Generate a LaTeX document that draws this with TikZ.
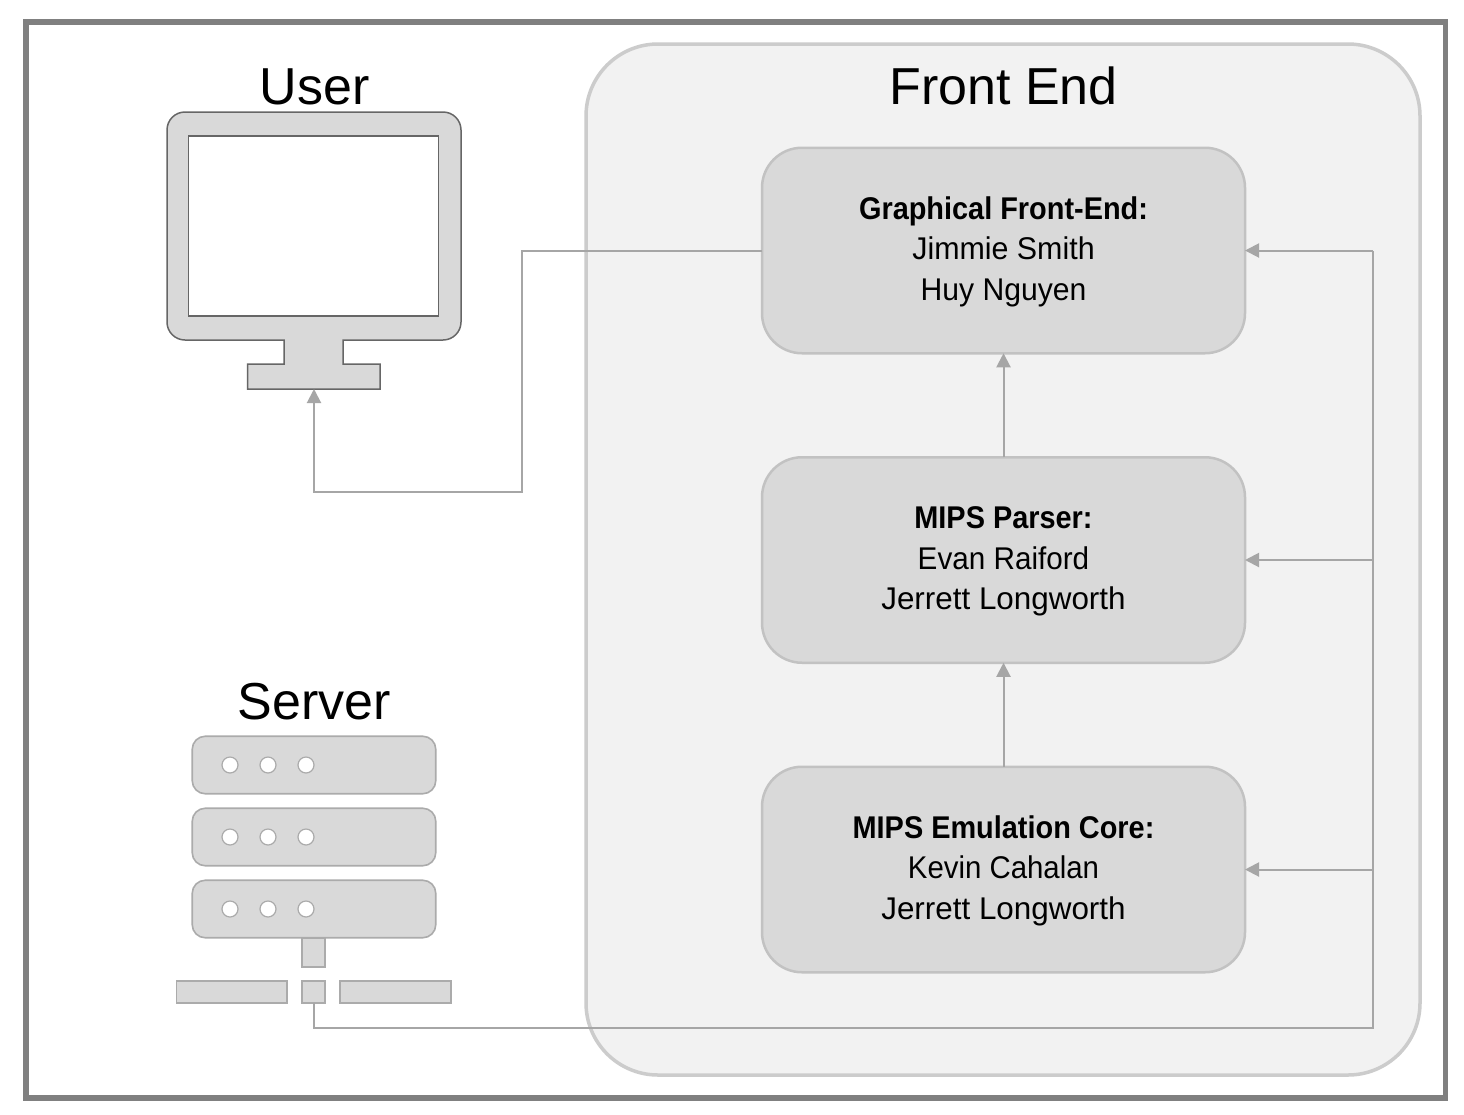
\documentclass[tikz,border=0pt]{standalone}
\usepackage{fontspec}
\setmainfont{Liberation Sans}
\usetikzlibrary{arrows.meta,calc}
\definecolor{boxfill}{HTML}{D9D9D9}
\definecolor{panelfill}{HTML}{F2F2F2}
\definecolor{panelline}{HTML}{CCCCCC}
\definecolor{boxline}{HTML}{C2C2C2}
\definecolor{conn}{HTML}{A6A6A6}
\definecolor{frameline}{HTML}{808080}
\definecolor{monline}{HTML}{666666}
\definecolor{srvline}{HTML}{ABABAB}
\tikzset{
  box/.style={draw=#1,fill=boxfill,line width=1.6pt,inner sep=0pt,outer sep=0pt},
  teambox/.style={box=boxline,line width=2.5pt,rounded corners=40pt,minimum width=483pt,minimum height=205.5pt,align=center,font=\fontsize{31.4}{40.5}\selectfont,text=black},
  srvbar/.style={box=srvline,rounded corners=13pt,minimum width=243.5pt,minimum height=57.5pt},
  srvrect/.style={box=srvline},
  led/.style={circle,draw=srvline,fill=white,line width=1.2pt,minimum size=16pt,inner sep=0pt},
  title/.style={font=\fontsize{52}{60}\selectfont,text=black,inner sep=0pt},
  conn/.style={draw=conn,line width=2pt},
  arrow/.style={conn,-{Triangle[length=14pt,width=14pt]}}
}
\newcommand{\sline}[2]{{\addfontfeature{FakeStretch=#1}#2}}
\newcommand{\teamtext}[5]{\rule{0pt}{25pt}{\bfseries\sline{.92}{#1}}\\\sline{#2}{#3}\\\sline{#4}{#5}}
\begin{document}
\begin{tikzpicture}[x=1pt,y=-1pt]
\useasboundingbox (0,0) rectangle (1464,1114);
\fill[white] (0,0) rectangle (1464,1114);
\node[draw=frameline,line width=5.6pt,minimum width=1419.7pt,minimum height=1076pt,inner sep=0pt,outer sep=0pt] (frame) at (735.8,560) {};
\node[draw=panelline,fill=panelfill,line width=3.5pt,rounded corners=72pt,minimum width=834pt,minimum height=1031pt,inner sep=0pt,outer sep=0pt] (panel) at (1003,559.5) {};
\node[title] (fronttitle) at (1003.7,86) {Front End};
\node[title] (usertitle) at (314.5,87) {User};
\node[title] (servertitle) at (314.3,702) {Server};

\node[teambox] (gui) at (1003.5,250.5) {\teamtext{Graphical Front-End:}{.968}{Jimmie Smith}{.959}{Huy Nguyen}};
\node[teambox] (parser) at (1003.5,560) {\teamtext{MIPS Parser:}{.945}{Evan Raiford}{1}{Jerrett Longworth}};
\node[teambox] (core) at (1003.5,869.5) {\teamtext{MIPS Emulation Core:}{.936}{Kevin Cahalan}{1}{Jerrett Longworth}};

% monitor
\draw[draw=monline,fill=boxfill,line width=1.5pt]
  (185,112) -- (443,112) arc[start angle=-90,end angle=0,radius=18] -- (461,322) arc[start angle=0,end angle=90,radius=18]
  -- (343,340) -- (343,364) -- (380,364) -- (380,389) -- (247.5,389) -- (247.5,364) -- (284,364) -- (284,340)
  -- (185,340) arc[start angle=90,end angle=180,radius=18] -- (167,130) arc[start angle=180,end angle=270,radius=18] -- cycle;
\node[draw=monline,fill=white,line width=1.5pt,minimum width=250pt,minimum height=180pt,inner sep=0pt] (screen) at (313.5,226) {};
\coordinate (monbase) at (314,389);

% server
\node[srvbar] (s1) at (314,765) {};
\node[srvbar] (s2) at (314,837) {};
\node[srvbar] (s3) at (314,909) {};
\foreach \s/\y in {1/765,2/837,3/909}{
  \node[led] (l\s a) at (230,\y) {};
  \node[led] (l\s b) at (268,\y) {};
  \node[led] (l\s c) at (306,\y) {};
}
\node[srvrect,minimum width=23pt,minimum height=29pt] (stem) at (313.5,952.5) {};
\node[srvrect,minimum width=110.5pt,minimum height=21.5pt] (barl) at (231.7,992) {};
\node[srvrect,minimum width=23pt,minimum height=21.5pt] (hub) at (313.5,992) {};
\node[srvrect,minimum width=110.5pt,minimum height=21.5pt] (barr) at (395.5,992) {};

% connectors
\draw[arrow] (gui.west) -- (522,250.5) -- (522,491.5) -- (monbase |- 0,491.5) -- (monbase);
\draw[arrow] (parser.north) -- (gui.south);
\draw[arrow] (core.north) -- (parser.south);
\coordinate (busb) at (1373,1028);
\coordinate (bust) at (1373,250.5);
\draw[conn] (hub.south) |- (busb) -- (bust);
\draw[arrow] (bust) -- (gui.east);
\draw[arrow] (bust |- parser.east) -- (parser.east);
\draw[arrow] (bust |- core.east) -- (core.east);
\end{tikzpicture}
\end{document}
